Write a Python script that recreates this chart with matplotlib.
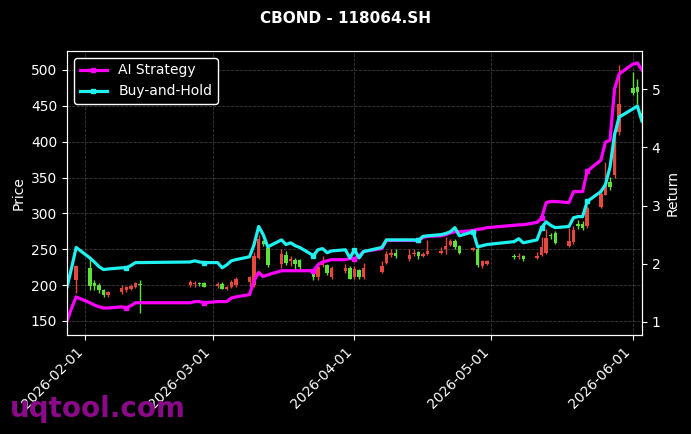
"""
Recreate CBOND 118064.SH candlestick chart with AI strategy vs buy-and-hold returns.
"""
import numpy as np
import pandas as pd
import matplotlib
matplotlib.use("Agg")
import matplotlib.pyplot as plt
import matplotlib.dates as mdates

nan = np.nan

dates = [
    "2026-01-28", "2026-01-29", "2026-01-30",
    "2026-02-02", "2026-02-03", "2026-02-04", "2026-02-05", "2026-02-06",
    "2026-02-09", "2026-02-10", "2026-02-11", "2026-02-12", "2026-02-13",
    "2026-02-24", "2026-02-25", "2026-02-26", "2026-02-27",
    "2026-03-02", "2026-03-03", "2026-03-04", "2026-03-05", "2026-03-06",
    "2026-03-09", "2026-03-10", "2026-03-11", "2026-03-12", "2026-03-13",
    "2026-03-16", "2026-03-17", "2026-03-18", "2026-03-19", "2026-03-20",
    "2026-03-23", "2026-03-24", "2026-03-25", "2026-03-26", "2026-03-27",
    "2026-03-30", "2026-03-31", "2026-04-01", "2026-04-02", "2026-04-03",
    "2026-04-07", "2026-04-08", "2026-04-09", "2026-04-10",
    "2026-04-13", "2026-04-14", "2026-04-15", "2026-04-16", "2026-04-17",
    "2026-04-20", "2026-04-21", "2026-04-22", "2026-04-23", "2026-04-24",
    "2026-04-27", "2026-04-28", "2026-04-29", "2026-04-30",
    "2026-05-06", "2026-05-07", "2026-05-08",
    "2026-05-11", "2026-05-12", "2026-05-13", "2026-05-14", "2026-05-15",
    "2026-05-18", "2026-05-19", "2026-05-20", "2026-05-21", "2026-05-22",
    "2026-05-25", "2026-05-26", "2026-05-27", "2026-05-28", "2026-05-29",
    "2026-06-01", "2026-06-02", "2026-06-03",
]

open_ = [
    nan, nan, 207,
    224, 203, 200, 193, 186,
    191, 193, 195, 198, 202,
    200, 201, 203, 203,
    199, 202, 194, 198, 200,
    204, 200, 238, 261, 252,
    229, 242, 234, 235, 235,
    215, 211, 228, 228, 211,
    220, 224, 211, 221, 211,
    219, 231, 242, 245,
    236, 243, 246, 240, 243,
    245, 250, 256, 262, 255,
    249, 250, 227, 230,
    241, 239, 241,
    238, 242, 245, 270, 273,
    255, 260, 285, 285, 282,
    309, 326, 344, 354, 413,
    475, 476, 440,
]
high = [
    nan, nan, 228,
    237, 207, 203, 195, 192,
    200, 199, 202, 205, 207,
    207, 206, 205, 204,
    205, 204, 199, 207, 212,
    213, 246, 270, 263, 256,
    251, 248, 240, 238, 237,
    219, 232, 241, 230, 227,
    229, 226, 226, 223, 231,
    234, 247, 250, 250,
    251, 250, 248, 246, 263,
    253, 267, 264, 264, 256,
    253, 253, 235, 235,
    244, 245, 242,
    246, 267, 278, 273, 275,
    280, 282, 291, 289, 310,
    333, 372, 351, 410, 507,
    497, 487, 445,
]
low = [
    nan, nan, 189,
    193, 193, 189, 183, 183,
    188, 190, 193, 196, 161,
    198, 198, 199, 197,
    196, 194, 193, 196, 198,
    197, 197, 236, 255, 225,
    224, 228, 226, 222, 222,
    207, 207, 225, 214, 208,
    217, 208, 209, 209, 209,
    217, 230, 239, 238,
    234, 241, 237, 239, 242,
    243, 244, 254, 251, 244,
    247, 225, 224, 228,
    236, 236, 234,
    236, 241, 243, 264, 257,
    253, 257, 278, 277, 280,
    307, 325, 333, 350, 410,
    465, 452, 434,
]
close = [
    nan, nan, 227,
    199, 199, 193, 186, 190,
    196, 197, 199, 203, 200,
    204, 203, 202, 198,
    202, 195, 197, 205, 208,
    211, 240, 265, 258, 228,
    243, 231, 237, 230, 225,
    211, 225, 231, 217, 224,
    224, 209, 223, 211, 224,
    227, 244, 245, 241,
    242, 245, 241, 244, 248,
    248, 254, 261, 253, 245,
    252, 228, 233, 233,
    239, 241, 236,
    241, 253, 266, 268, 259,
    262, 277, 282, 280, 308,
    327, 343, 337, 400, 452,
    468, 469, 436,
]

ai_return = [
    1.02, 1.24, 1.43,
    1.33, 1.29, 1.26, 1.24, 1.24,
    1.26, 1.24, 1.28, 1.33, 1.33,
    1.33, 1.35, 1.35, 1.33,
    1.35, 1.35, 1.35, 1.41, 1.43,
    1.47, 1.71, 1.85, 1.78, 1.81,
    1.88, 1.88, 1.88, 1.88, 1.88,
    1.88, 1.98, 2.03, 2.05, 2.07,
    2.07, 2.09, 2.09, 2.14, 2.21,
    2.26, 2.40, 2.40, 2.40,
    2.40, 2.40, 2.40, 2.45, 2.47,
    2.48, 2.50, 2.53, 2.55, 2.55,
    2.57, 2.59, 2.60, 2.62,
    2.66, 2.67, 2.67,
    2.71, 2.78, 3.05, 3.07, 3.07,
    3.05, 3.24, 3.24, 3.24, 3.59,
    3.78, 4.09, 4.12, 5.00, 5.26,
    5.43, 5.45, 5.33,
]
bh_return = [
    1.60, 1.93, 2.28,
    2.10, 2.03, 1.95, 1.90, 1.91,
    1.93, 1.93, 1.97, 2.02, 2.02,
    2.03, 2.05, 2.03, 2.02,
    2.02, 1.93, 1.98, 2.05, 2.07,
    2.12, 2.33, 2.64, 2.50, 2.29,
    2.41, 2.33, 2.36, 2.31, 2.28,
    2.14, 2.24, 2.26, 2.19, 2.22,
    2.24, 2.10, 2.24, 2.10, 2.21,
    2.28, 2.41, 2.41, 2.41,
    2.41, 2.41, 2.40, 2.47, 2.48,
    2.50, 2.52, 2.55, 2.62, 2.48,
    2.55, 2.29, 2.31, 2.33,
    2.38, 2.43, 2.36,
    2.41, 2.62, 2.72, 2.66, 2.62,
    2.64, 2.79, 2.81, 2.81, 3.07,
    3.24, 3.36, 3.66, 4.22, 4.52,
    4.66, 4.71, 4.45,
]

signal_dates = ["2026-02-10", "2026-02-27", "2026-03-23", "2026-04-01",
                "2026-04-15", "2026-04-27", "2026-05-12", "2026-05-22"]

RED = "#e5483e"
GREEN = "#5ee23a"

df = pd.DataFrame({
    "date": pd.to_datetime(dates),
    "open": open_, "high": high, "low": low, "close": close,
    "ai": ai_return, "bh": bh_return,
})
df["x"] = mdates.date2num(df["date"])
mark_idx = list(np.where(df["date"].isin(pd.to_datetime(signal_dates)))[0])

fig = plt.figure(figsize=(6.91, 4.34), dpi=100, facecolor="black")
ax = fig.add_axes([0.097, 0.228, 0.832, 0.6545])
ax.set_facecolor("black")

# Candlesticks (red = up, green = down)
candles = df.dropna(subset=["open"])
up = candles["close"] >= candles["open"]
colors = np.where(up, RED, GREEN)
ax.vlines(candles["x"], candles["low"], candles["high"], colors=colors, linewidth=1)
body_bottom = np.minimum(candles["open"], candles["close"])
body_height = np.maximum((candles["close"] - candles["open"]).abs(), 1.0)
ax.bar(candles["x"], body_height, bottom=body_bottom, width=0.75, color=colors, linewidth=0)

ax.set_ylim(130.4, 526.5)
ax.set_xlim(df["x"].iloc[0], df["x"].iloc[-1])
ax.set_ylabel("Price", color="white", fontsize=10)
ax.grid(True, linestyle="--", color="gray", alpha=0.45, linewidth=0.6)

# Strategy returns on secondary axis
ax2 = ax.twinx()
ax2.plot(df["x"], df["ai"], color="#ff00ff", linewidth=2.3, marker="s",
         markersize=3, markevery=mark_idx, label="AI Strategy")
ax2.plot(df["x"], df["bh"], color="#1ff0f0", linewidth=2.3, marker="s",
         markersize=3, markevery=mark_idx, label="Buy-and-Hold")
ax2.set_ylim(0.775, 5.655)
ax2.set_ylabel("Return", color="white", fontsize=10)

ax.xaxis.set_major_locator(mdates.MonthLocator())
ax.xaxis.set_major_formatter(mdates.DateFormatter("%Y-%m-%d"))
plt.setp(ax.get_xticklabels(), rotation=45, ha="right")

for a in (ax, ax2):
    a.tick_params(colors="white", labelsize=10)
    for s in a.spines.values():
        s.set_color("white")

ax2.legend(loc="upper left", facecolor="black", edgecolor="white",
           fontsize=10, labelcolor="white", framealpha=1)

fig.suptitle("CBOND - 118064.SH", color="white", fontsize=11,
             fontweight="bold", y=0.975)
fig.text(0.014, 0.04, "uqtool.com", color="#8a0a8a", fontsize=20,
         fontweight="bold")

fig.savefig("out.png", dpi=100, facecolor="black")
